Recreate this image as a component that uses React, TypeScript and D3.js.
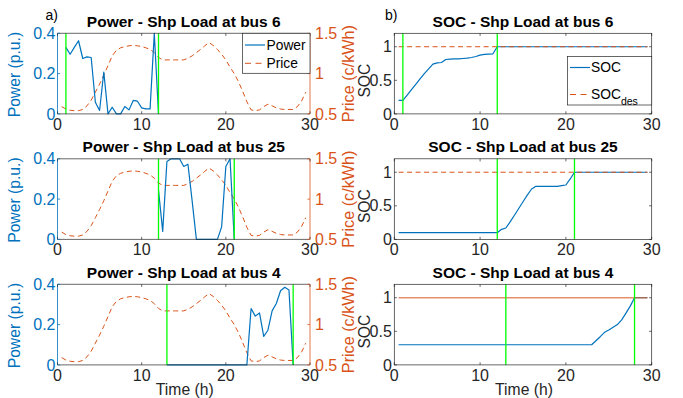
import React from "react";
import * as d3 from "d3";

// ---------- data ----------
const HOURS = [
  0.5, 1, 1.5, 2, 2.5, 3, 3.5, 4, 4.5, 5, 5.5, 6, 6.5, 7, 7.5, 8, 8.5, 9, 9.5, 10,
  10.5, 11, 11.5, 12, 12.5, 13, 13.5, 14, 14.5, 15, 15.5, 16, 16.5, 17, 17.5, 18, 18.5, 19, 19.5, 20,
  20.5, 21, 21.5, 22, 22.5, 23, 23.5, 24, 24.5, 25, 25.5, 26, 26.5, 27, 27.5, 28, 28.5, 29, 29.5,
];

const PRICE = [
  0.59, 0.56, 0.545, 0.54, 0.54, 0.555, 0.6, 0.67, 0.77, 0.87, 0.98, 1.1, 1.22, 1.29, 1.32, 1.335, 1.345, 1.35, 1.345, 1.335,
  1.32, 1.3, 1.26, 1.2, 1.17, 1.17, 1.17, 1.17, 1.17, 1.17, 1.19, 1.22, 1.26, 1.3, 1.345, 1.385, 1.35, 1.3, 1.24, 1.17,
  1.08, 1.0, 0.9, 0.78, 0.65, 0.55, 0.54, 0.55, 0.59, 0.62, 0.6, 0.575, 0.56, 0.555, 0.555, 0.555, 0.59, 0.66, 0.77,
];

const BUS_LABELS = ["6", "25", "4"];
const ARRIVAL = [1, 12, 13];
const DEPARTURE = [12, 21, 28];

const POWER_T_BUS6 = [1, 1.5, 2, 2.5, 3, 3.5, 4, 4.5, 5, 5.5, 6, 6.5, 7, 7.5, 8, 8.5, 9, 9.5, 10, 10.5, 11, 11.5, 12];
const POWER_BUS6 = [0.33, 0.296, 0.33, 0.363, 0.275, 0.283, 0.28, 0.058, 0.017, 0.208, 0, 0.033, 0, 0, 0.037, 0.02, 0.067, 0.063, 0.03, 0.025, 0.025, 0.4, 0];

const POWER_T_BUS25 = [12, 12.5, 13, 13.5, 14, 14.5, 15, 15.5, 16, 16.5, 17, 17.5, 18, 18.5, 19, 19.5, 20, 20.5, 21];
const POWER_BUS25 = [0.245, 0.04, 0.387, 0.4, 0.4, 0.4, 0.362, 0.373, 0.19, 0, 0, 0, 0, 0, 0, 0.062, 0.362, 0.4, 0];

const POWER_T_BUS4 = [13, 13.5, 14, 14.5, 15, 15.5, 16, 16.5, 17, 17.5, 18, 18.5, 19, 19.5, 20, 20.5, 21, 21.5, 22, 22.5, 23, 23.5, 24, 24.5, 25, 25.5, 26, 26.5, 27, 27.5, 28];
const POWER_BUS4 = [0, 0, 0, 0, 0, 0, 0, 0, 0, 0, 0, 0, 0, 0, 0, 0, 0, 0, 0, 0, 0.28, 0.242, 0.258, 0.142, 0.172, 0.268, 0.305, 0.368, 0.385, 0.372, 0];

const SOC_BUS6 = [
  0.2, 0.2, 0.28, 0.36, 0.44, 0.52, 0.6, 0.67, 0.74, 0.76, 0.765, 0.81, 0.815, 0.82, 0.82, 0.825, 0.83, 0.84, 0.855, 0.875,
  0.885, 0.89, 0.895, 1, 1, 1, 1, 1, 1, 1, 1, 1, 1, 1, 1, 1, 1, 1, 1, 1,
  1, 1, 1, 1, 1, 1, 1, 1, 1, 1, 1, 1, 1, 1, 1, 1, 1, 1, 1,
];
const SOC_BUS25 = [
  0.1, 0.1, 0.1, 0.1, 0.1, 0.1, 0.1, 0.1, 0.1, 0.1, 0.1, 0.1, 0.1, 0.1, 0.1, 0.1, 0.1, 0.1, 0.1, 0.1,
  0.1, 0.1, 0.1, 0.1, 0.15, 0.17, 0.26, 0.36, 0.46, 0.56, 0.66, 0.75, 0.79, 0.79, 0.79, 0.79, 0.79, 0.79, 0.8, 0.81,
  0.9, 1, 1, 1, 1, 1, 1, 1, 1, 1, 1, 1, 1, 1, 1, 1, 1, 1, 1,
];
const SOC_BUS4 = [
  0.3, 0.3, 0.3, 0.3, 0.3, 0.3, 0.3, 0.3, 0.3, 0.3, 0.3, 0.3, 0.3, 0.3, 0.3, 0.3, 0.3, 0.3, 0.3, 0.3,
  0.3, 0.3, 0.3, 0.3, 0.3, 0.3, 0.3, 0.3, 0.3, 0.3, 0.3, 0.3, 0.3, 0.3, 0.3, 0.3, 0.3, 0.3, 0.3, 0.3,
  0.3, 0.3, 0.3, 0.3, 0.3, 0.3, 0.36, 0.42, 0.485, 0.52, 0.56, 0.6, 0.67, 0.77, 0.875, 1, 1, 1, 1,
];
const SOC_DES = 1;

const POWER_T = [POWER_T_BUS6, POWER_T_BUS25, POWER_T_BUS4];
const POWER = [POWER_BUS6, POWER_BUS25, POWER_BUS4];
const SOC = [SOC_BUS6, SOC_BUS25, SOC_BUS4];

const TIME_TICKS = [0, 10, 20, 30];
const POWER_TICKS = [0, 0.2, 0.4];
const PRICE_TICKS = [0.5, 1, 1.5];
const SOC_TICKS = [0, 0.5, 1];

// ---------- layout / style ----------
const W = 683;
const HGT = 398;
const L0 = 57.5, L1 = 310;
const R0 = 394.3, R1 = 651.7;
const TOPS = [33.3, 158.8, 284.3];
const PH = 80.6;
const BLUE = "#0072BD";
const ORANGE = "#D95319";
const GREEN = "#00FF00";
const AX = "#262626";
const FONT = "'Liberation Sans', Arial, Helvetica, sans-serif";
const TICK_FS = 16;
const LABEL_FS = 15.7;
const TITLE_FS = 15.5;
const LEG_FS = 13.8;
const TL = 2.6;

function fmt(v: number) {
  return String(v);
}

function PowerPanel({ i }: { i: number }) {
  const top = TOPS[i];
  const bottom = top + PH;
  const x = d3.scaleLinear().domain([0, 30]).range([L0, L1]);
  const yP = d3.scaleLinear().domain([0, 0.4]).range([bottom, top]);
  const yC = d3.scaleLinear().domain([0.5, 1.5]).range([bottom, top]);
  const priceD = d3.line<number>().x((_, k) => x(HOURS[k])).y((d) => yC(d))(PRICE) || "";
  const powerD = d3.line<number>().x((_, k) => x(POWER_T[i][k])).y((d) => yP(d))(POWER[i]) || "";
  const cx = (L0 + L1) / 2;
  const cy = (top + bottom) / 2;
  return (
    <g>
      <text x={cx} y={top - 6.5} textAnchor="middle" fontSize={TITLE_FS} fontWeight="bold" fill="#000">
        {`Power - Shp Load at bus ${BUS_LABELS[i]}`}
      </text>
      <path d={priceD} fill="none" stroke={ORANGE} strokeWidth={1} strokeDasharray="5,3.5" />
      <path d={powerD} fill="none" stroke={BLUE} strokeWidth={1.2} strokeLinejoin="round" />
      {[ARRIVAL[i], DEPARTURE[i]].map((t, k) => (
        <line key={k} x1={x(t)} x2={x(t)} y1={top} y2={bottom} stroke={GREEN} strokeWidth={1.3} />
      ))}
      {/* box */}
      <line x1={L0} x2={L1} y1={top} y2={top} stroke={AX} strokeWidth={0.7} />
      <line x1={L0} x2={L1} y1={bottom} y2={bottom} stroke={AX} strokeWidth={0.7} />
      <line x1={L0} x2={L0} y1={top} y2={bottom} stroke={BLUE} strokeWidth={0.8} />
      <line x1={L1} x2={L1} y1={top} y2={bottom} stroke={ORANGE} strokeWidth={0.8} />
      {TIME_TICKS.map((t) => (
        <g key={t}>
          <line x1={x(t)} x2={x(t)} y1={bottom} y2={bottom - TL} stroke={AX} strokeWidth={0.7} />
          <line x1={x(t)} x2={x(t)} y1={top} y2={top + TL} stroke={AX} strokeWidth={0.7} />
          <text x={x(t)} y={bottom + 16} textAnchor="middle" fontSize={TICK_FS} fill={AX}>
            {fmt(t)}
          </text>
        </g>
      ))}
      {POWER_TICKS.map((v) => (
        <g key={v}>
          <line x1={L0} x2={L0 + TL} y1={yP(v)} y2={yP(v)} stroke={BLUE} strokeWidth={0.8} />
          <text x={L0 - 2} y={yP(v)} dy="0.35em" textAnchor="end" fontSize={TICK_FS} fill={BLUE}>
            {fmt(v)}
          </text>
        </g>
      ))}
      {PRICE_TICKS.map((v) => (
        <g key={v}>
          <line x1={L1} x2={L1 - TL} y1={yC(v)} y2={yC(v)} stroke={ORANGE} strokeWidth={0.8} />
          <text x={L1 + 5} y={yC(v)} dy="0.35em" textAnchor="start" fontSize={TICK_FS} fill={ORANGE}>
            {fmt(v)}
          </text>
        </g>
      ))}
      <text transform={`translate(19.5,${cy + 1}) rotate(-90)`} textAnchor="middle" fontSize={LABEL_FS} fill={BLUE}>
        Power (p.u.)
      </text>
      <text transform={`translate(353.5,${cy}) rotate(-90)`} textAnchor="middle" fontSize={LABEL_FS + 0.5} fill={ORANGE}>
        Price (c/kWh)
      </text>
      {i === 0 && (
        <g>
          <rect x={242.5} y={top} width={L1 - 242.5} height={40} fill="#fff" stroke={AX} strokeWidth={0.7} />
          <line x1={245} x2={265} y1={top + 11.7} y2={top + 11.7} stroke={BLUE} strokeWidth={1.2} />
          <text x={266.5} y={top + 11.7} dy="0.36em" fontSize={LEG_FS} fill="#000">Power</text>
          <line x1={245} x2={265} y1={top + 30} y2={top + 30} stroke={ORANGE} strokeWidth={1} strokeDasharray="6,4.5" />
          <text x={266.5} y={top + 30} dy="0.36em" fontSize={LEG_FS} fill="#000">Price</text>
        </g>
      )}
      {i === 2 && (
        <text x={cx + 1} y={395} textAnchor="middle" fontSize={LABEL_FS} fill={AX}>Time (h)</text>
      )}
    </g>
  );
}

function SocPanel({ i }: { i: number }) {
  const top = TOPS[i];
  const bottom = top + PH;
  const x = d3.scaleLinear().domain([0, 30]).range([R0, R1]);
  const y = d3.scaleLinear().domain([0, 1.2]).range([bottom, top]);
  const socD = d3.line<number>().x((_, k) => x(HOURS[k])).y((d) => y(d))(SOC[i]) || "";
  const desD = d3.line<number>().x((d) => x(d)).y(() => y(SOC_DES))([HOURS[0], HOURS[HOURS.length - 1]]) || "";
  const cx = (R0 + R1) / 2;
  const cy = (top + bottom) / 2;
  const dense = i === 2;
  return (
    <g>
      <text x={cx} y={top - 6.5} textAnchor="middle" fontSize={TITLE_FS} fontWeight="bold" fill="#000">
        {`SOC - Shp Load at bus ${BUS_LABELS[i]}`}
      </text>
      <path d={socD} fill="none" stroke={BLUE} strokeWidth={1.2} strokeLinejoin="round" />
      {dense ? (
        <path d={desD} fill="none" stroke={ORANGE} strokeOpacity={0.65} strokeWidth={1.5} />
      ) : (
        <path d={desD} fill="none" stroke={ORANGE} strokeWidth={1} strokeDasharray="5,3.5" />
      )}
      {[ARRIVAL[i], DEPARTURE[i]].map((t, k) => (
        <line key={k} x1={x(t)} x2={x(t)} y1={top} y2={bottom} stroke={GREEN} strokeWidth={1.3} />
      ))}
      <rect x={R0} y={top} width={R1 - R0} height={PH} fill="none" stroke={AX} strokeWidth={0.7} />
      {TIME_TICKS.map((t) => (
        <g key={t}>
          <line x1={x(t)} x2={x(t)} y1={bottom} y2={bottom - TL} stroke={AX} strokeWidth={0.7} />
          <line x1={x(t)} x2={x(t)} y1={top} y2={top + TL} stroke={AX} strokeWidth={0.7} />
          <text x={x(t)} y={bottom + 16} textAnchor="middle" fontSize={TICK_FS} fill={AX}>
            {fmt(t)}
          </text>
        </g>
      ))}
      {SOC_TICKS.map((v) => (
        <g key={v}>
          <line x1={R0} x2={R0 + TL} y1={y(v)} y2={y(v)} stroke={AX} strokeWidth={0.7} />
          <line x1={R1} x2={R1 - TL} y1={y(v)} y2={y(v)} stroke={AX} strokeWidth={0.7} />
          <text x={R0 - 2.5} y={y(v)} dy="0.35em" textAnchor="end" fontSize={TICK_FS} fill={AX}>
            {fmt(v)}
          </text>
        </g>
      ))}
      <text transform={`translate(370,${cy + 7}) rotate(-90)`} textAnchor="middle" fontSize={LABEL_FS} fill={AX}>
        SOC
      </text>
      {i === 0 && (
        <g>
          <rect x={567.5} y={56.5} width={R1 - 567.5} height={48.5} fill="#fff" stroke={AX} strokeWidth={0.7} />
          <line x1={570} x2={590} y1={67.5} y2={67.5} stroke={BLUE} strokeWidth={1.2} />
          <text x={591} y={67.5} dy="0.36em" fontSize={LEG_FS} fill="#000">SOC</text>
          <line x1={570} x2={590} y1={94.5} y2={94.5} stroke={ORANGE} strokeWidth={1} strokeDasharray="6,4.5" />
          <text x={591} y={94.5} dy="0.36em" fontSize={LEG_FS} fill="#000">
            SOC
            <tspan fontSize={10.5} dy="5.5">des</tspan>
          </text>
        </g>
      )}
      {i === 2 && (
        <text x={cx + 1} y={395} textAnchor="middle" fontSize={LABEL_FS} fill={AX}>Time (h)</text>
      )}
    </g>
  );
}

export default function App() {
  return (
    <svg
      width={W}
      height={HGT}
      viewBox={`0 0 ${W} ${HGT}`}
      style={{ position: "absolute", left: 0, top: 0, background: "#fff", fontFamily: FONT }}
    >
      <rect x={0} y={0} width={W} height={HGT} fill="#fff" />
      {[0, 1, 2].map((i) => (
        <PowerPanel key={`p${i}`} i={i} />
      ))}
      {[0, 1, 2].map((i) => (
        <SocPanel key={`s${i}`} i={i} />
      ))}
      <text x={45.5} y={20} fontSize={14} fill="#000">a)</text>
      <text x={385} y={20} fontSize={14} fill="#000">b)</text>
    </svg>
  );
}
